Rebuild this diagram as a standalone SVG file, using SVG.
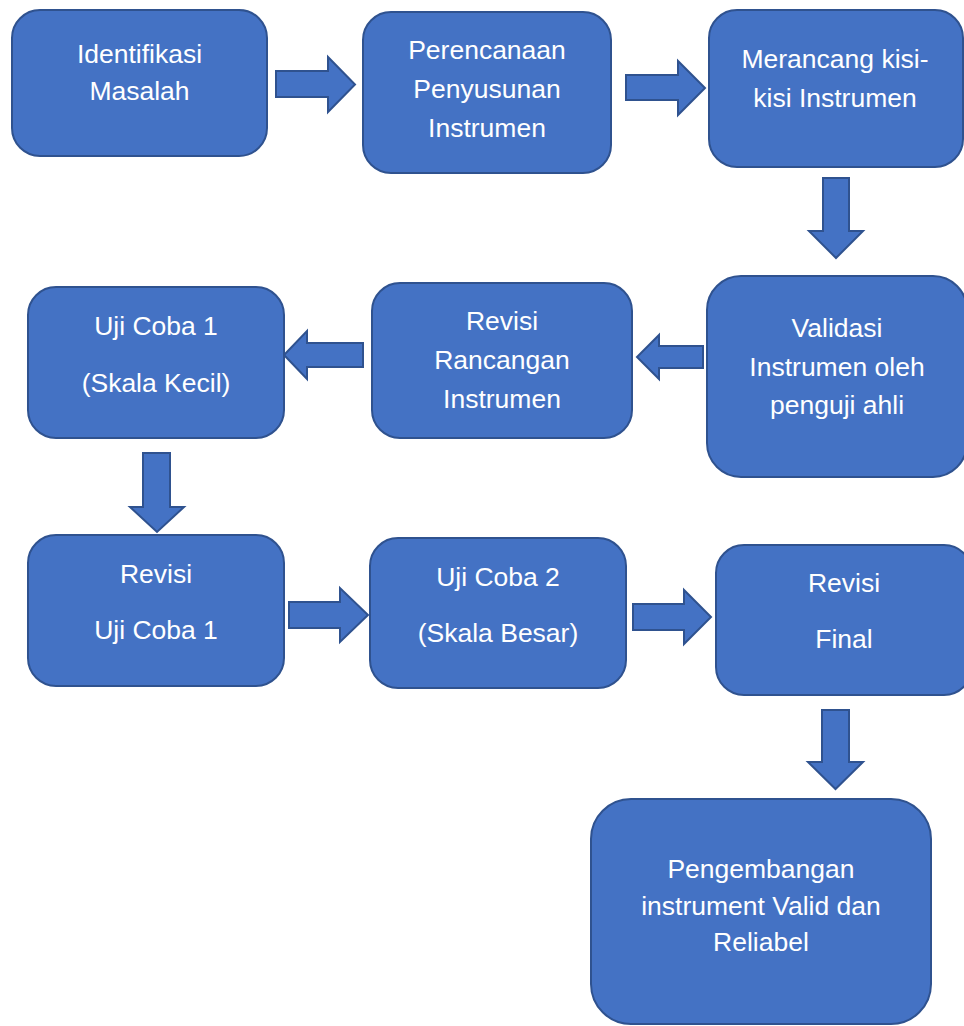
<svg xmlns="http://www.w3.org/2000/svg" width="964" height="1026" viewBox="0 0 964 1026">
<style>
.box{fill:#4472C4;stroke:#2F528F;stroke-width:2}
.arr{fill:#4472C4;stroke:#2F528F;stroke-width:2;stroke-linejoin:miter}
text{font-family:"Liberation Sans",Arial,sans-serif;font-size:26.5px;fill:#FFFFFF;text-anchor:middle}
</style>
<rect width="964" height="1026" fill="#FFFFFF"/>
<g id="connectors">
<polygon class="arr" points="276,71 328,71 328,57 355,84.5 328,112 328,97 276,97"/>
<polygon class="arr" points="626,75 678,75 678,61 705,88 678,115 678,100 626,100"/>
<polygon class="arr" points="823,178 849,178 849,231 863,231 836,258 809,231 823,231"/>
<polygon class="arr" points="703,346 659,346 659,335 637,357 659,379 659,368 703,368"/>
<polygon class="arr" points="363,343 307,343 307,331 284,355 307,379 307,367 363,367"/>
<polygon class="arr" points="143,453 170,453 170,507 184,507 157,532 130,507 143,507"/>
<polygon class="arr" points="289,602 340,602 340,588 368,615 340,642 340,628 289,628"/>
<polygon class="arr" points="633,604 684,604 684,590 711,617 684,644 684,630 633,630"/>
<polygon class="arr" points="822,710 849,710 849,762 863,762 835.5,789 808,762 822,762"/>
</g>
<g id="n1"><rect class="box" x="12" y="10" width="255" height="146" rx="28"/>
<text x="139.5" y="63">Identifikasi</text><text x="139.5" y="100">Masalah</text></g>
<g id="n2"><rect class="box" x="363" y="12" width="248" height="161" rx="28"/>
<text x="487" y="59">Perencanaan</text><text x="487" y="98">Penyusunan</text><text x="487" y="137">Instrumen</text></g>
<g id="n3"><rect class="box" x="709" y="10" width="254" height="157" rx="28"/>
<text x="835" y="68">Merancang kisi-</text><text x="835" y="107">kisi Instrumen</text></g>
<g id="n4"><rect class="box" x="707" y="276" width="260" height="201" rx="34"/>
<text x="837" y="337">Validasi</text><text x="837" y="376">Instrumen oleh</text><text x="837" y="414">penguji ahli</text></g>
<g id="n5"><rect class="box" x="372" y="283" width="260" height="155" rx="28"/>
<text x="502" y="330">Revisi</text><text x="502" y="369">Rancangan</text><text x="502" y="408">Instrumen</text></g>
<g id="n6"><rect class="box" x="28" y="287" width="256" height="151" rx="28"/>
<text x="156" y="335">Uji Coba 1</text><text x="156" y="392">(Skala Kecil)</text></g>
<g id="n7"><rect class="box" x="28" y="535" width="256" height="151" rx="28"/>
<text x="156" y="583">Revisi</text><text x="156" y="639">Uji Coba 1</text></g>
<g id="n8"><rect class="box" x="370" y="538" width="256" height="150" rx="28"/>
<text x="498" y="586">Uji Coba 2</text><text x="498" y="642">(Skala Besar)</text></g>
<g id="n9"><rect class="box" x="716" y="545" width="256" height="150" rx="28"/>
<text x="844" y="592">Revisi</text><text x="844" y="648">Final</text></g>
<g id="n10"><rect class="box" x="591" y="799" width="340" height="225" rx="40"/>
<text x="761" y="878">Pengembangan</text><text x="761" y="915">instrument Valid dan</text><text x="761" y="951">Reliabel</text></g>
</svg>
